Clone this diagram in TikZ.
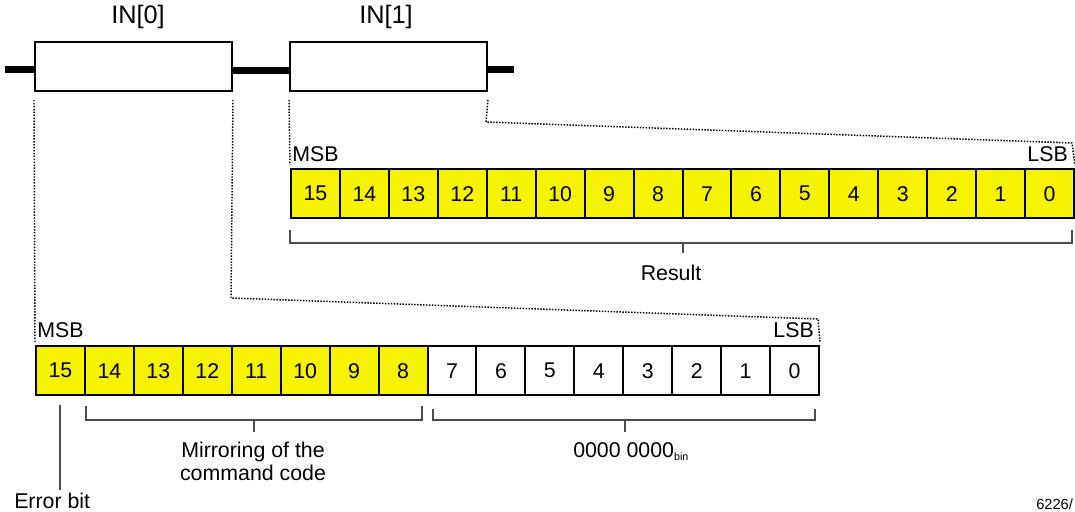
\documentclass[tikz,border=0pt]{standalone}
\usepackage{fontspec}
\setmainfont{Liberation Sans}
\begin{document}
\begin{tikzpicture}[x=0.75pt,y=-0.75pt,
  txt/.style={inner sep=0pt, font=\fontsize{16}{19}\selectfont},
  cellbox/.style={draw=black, line width=1.5pt, minimum width=36.7pt, minimum height=37pt, inner sep=0pt, anchor=north west, font=\fontsize{16}{19}\selectfont},
  yel/.style={fill=sigyellow},
  wht/.style={fill=white},
  inbox/.style={draw=black, line width=1.5pt, fill=white, minimum width=147.75pt, minimum height=36.75pt, inner sep=0pt, anchor=north west},
  bus/.style={line width=5.25pt, black},
  conn/.style={dash pattern=on 1.1pt off 1.1pt, line width=1.1pt, black},
  brk/.style={line width=1pt, draw=black!70}
]
\definecolor{sigyellow}{RGB}{247,243,0}
\useasboundingbox (0,0) rectangle (1075,511);

% input boxes
\node[inbox] (in0) at (34,41) {};
\node[inbox] (in1) at (289,41) {};
\node[txt, font=\fontsize{19}{22}\selectfont] (l0) at (138,17) {IN[0]};
\node[txt, font=\fontsize{19}{22}\selectfont] (l1) at (386,17) {IN[1]};
\coordinate (busl) at (5,69);
\coordinate (busr) at (514,69);
\draw[bus] (busl) -- (in0.west |- busl);
\draw[bus] (in0.east |- 0,70) -- (in1.west |- 0,70);
\draw[bus] (in1.east |- busr) -- (busr);

% top register
\foreach \i [evaluate=\i as \b using int(15-\i)] in {0,...,15} {
  \node[cellbox, yel] (t\b) at ({290+\i*48.94},168) {\b};
}
% bottom register
\foreach \i [evaluate=\i as \b using int(15-\i)] in {0,...,7} {
  \node[cellbox, yel] (b\b) at ({35+\i*48.94},345) {\b};
}
\foreach \i [evaluate=\i as \b using int(15-\i)] in {8,...,15} {
  \node[cellbox, wht] (b\b) at ({35+\i*48.94},345) {\b};
}

% labels
\node[txt, anchor=base west] (msbt) at (292,161) {MSB};
\node[txt, anchor=base east] (lsbt) at (1068,161) {LSB};
\node[txt, anchor=base west] (msbb) at (37,337) {MSB};
\node[txt, anchor=base east] (lsbb) at (814,337) {LSB};

% dotted connectors
\coordinate (c0a) at ([yshift=-6pt]in0.south west);
\coordinate (c0b) at ([yshift=-6pt]in0.south east);
\coordinate (c1a) at ([yshift=-6pt]in1.south west);
\coordinate (c1b) at ([yshift=-6pt]in1.south east);
\draw[conn] (c0a) -- ([yshift=2pt]b15.north west);
\draw[conn] (c0b) -- (231,298) -- (818,319) -- ([yshift=2pt]b0.north east);
\draw[conn] (c1a) -- ([yshift=2pt]t15.north west);
\draw[conn] (c1b) -- (486,122) -- (1072,143) -- ([yshift=2pt]t0.north east);

% brackets top
\coordinate (rm) at (683,243);
\draw[brk] (290,230) -- (290,243) -- (1072,243) -- (1072,230);
\draw[brk] (rm) -- (683,253);
\node[txt, anchor=base] (res) at (671,280) {Result};

% bottom brackets
\draw[brk] (60,405) -- (60,490);
\node[txt, anchor=base west] (err) at (14,508) {Error bit};
\draw[brk] (86,406) -- (86,420) -- (422,420) -- (422,406);
\draw[brk] (254,420) -- (254,432);
\node[txt, anchor=base] (mir1) at (253,457) {Mirroring of the};
\node[txt, anchor=base] (mir2) at (253,480) {command code};
\draw[brk] (433,409) -- (433,420) -- (815,420) -- (815,409);
\draw[brk] (625,420) -- (625,432);
\node[txt, anchor=base west] (zero) at (573,457) {0000 0000\raisebox{-2.5pt}{\fontsize{8}{9}\selectfont bin}};

\node[inner sep=0pt, anchor=base west, font=\fontsize{11}{12}\selectfont] (fig) at (1036,509) {6226/};
\end{tikzpicture}
\end{document}
